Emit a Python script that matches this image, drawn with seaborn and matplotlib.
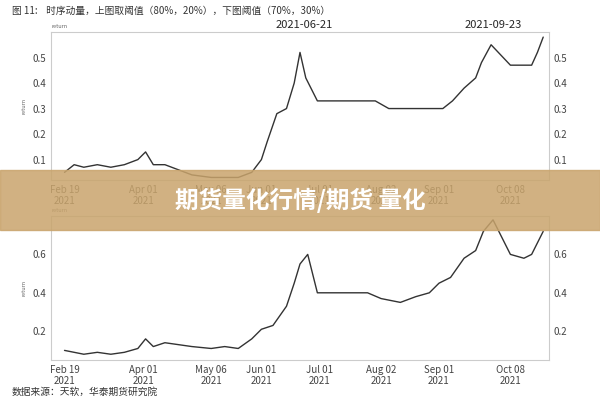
import matplotlib
matplotlib.use("Agg")
import matplotlib.pyplot as plt
import matplotlib.dates as mdates
import seaborn as sns
import pandas as pd

sns.set_style("white")
plt.rcParams['font.family'] = ['Noto Sans CJK SC', 'DejaVu Sans']

top_dates = ["2021-02-19","2021-02-24","2021-03-01","2021-03-08","2021-03-15","2021-03-22","2021-03-29","2021-04-02","2021-04-06","2021-04-12","2021-04-19","2021-04-26","2021-05-06","2021-05-13","2021-05-20","2021-05-27","2021-06-01","2021-06-04","2021-06-09","2021-06-14","2021-06-18","2021-06-21","2021-06-24","2021-06-30","2021-07-09","2021-07-20","2021-07-30","2021-08-06","2021-08-16","2021-08-27","2021-09-03","2021-09-08","2021-09-14","2021-09-20","2021-09-23","2021-09-28","2021-10-08","2021-10-15","2021-10-19","2021-10-22","2021-10-25"]
top_vals = [0.05,0.08,0.07,0.08,0.07,0.08,0.10,0.13,0.08,0.08,0.06,0.04,0.03,0.03,0.03,0.05,0.10,0.17,0.28,0.30,0.40,0.52,0.42,0.33,0.33,0.33,0.33,0.30,0.30,0.30,0.30,0.33,0.38,0.42,0.48,0.55,0.47,0.47,0.47,0.52,0.58]
bot_dates = ["2021-02-19","2021-02-24","2021-03-01","2021-03-08","2021-03-15","2021-03-22","2021-03-29","2021-04-02","2021-04-06","2021-04-12","2021-04-19","2021-04-26","2021-05-06","2021-05-13","2021-05-20","2021-05-27","2021-06-01","2021-06-07","2021-06-14","2021-06-18","2021-06-21","2021-06-25","2021-06-30","2021-07-06","2021-07-15","2021-07-26","2021-08-02","2021-08-12","2021-08-20","2021-08-27","2021-09-01","2021-09-07","2021-09-14","2021-09-20","2021-09-24","2021-09-29","2021-10-08","2021-10-15","2021-10-19","2021-10-25"]
bot_vals = [0.10,0.09,0.08,0.09,0.08,0.09,0.11,0.16,0.12,0.14,0.13,0.12,0.11,0.12,0.11,0.16,0.21,0.23,0.33,0.45,0.55,0.60,0.40,0.40,0.40,0.40,0.37,0.35,0.38,0.40,0.45,0.48,0.58,0.62,0.72,0.78,0.60,0.58,0.60,0.72]

fig = plt.figure(figsize=(6, 4), dpi=100)
fig.patch.set_facecolor("white")
fig.text(0.02, 0.985, "图 11:    时序动量，上图取阈值（80%，20%），下图阈值（70%，30%）", fontsize=7, va="top", color="#333")
fig.text(0.02, 0.012, "数据来源：天软，华泰期货研究院", fontsize=7, color="#333")

ticks = pd.to_datetime(["2021-02-19","2021-04-01","2021-05-06","2021-06-01","2021-07-01","2021-08-02","2021-09-01","2021-10-08"])
labels = ["Feb 19\n2021","Apr 01\n2021","May 06\n2021","Jun 01\n2021","Jul 01\n2021","Aug 02\n2021","Sep 01\n2021","Oct 08\n2021"]

def panel(rect, dates, vals, yt):
    ax = fig.add_axes(rect)
    df = pd.DataFrame({"d": pd.to_datetime(dates), "v": vals})
    sns.lineplot(data=df, x="d", y="v", ax=ax, color="#333", lw=1)
    ax.set_xlim(pd.Timestamp("2021-02-12"), pd.Timestamp("2021-10-28"))
    ax.set_xticks(ticks); ax.set_xticklabels(labels, fontsize=7, color="#444")
    ax.set_yticks(yt); ax.set_yticklabels([f"{t:g}" for t in yt], fontsize=7, color="#444")
    ax.tick_params(labelright=True, length=0)
    ax.set_xlabel(""); ax.set_ylabel("return", fontsize=4, color="#666")
    ax.text(0.0, 1.03, "return", transform=ax.transAxes, fontsize=4, color="#666")
    for s in ax.spines.values(): s.set_color("#ccc")
    return ax

a1 = panel([0.085, 0.55, 0.83, 0.37], top_dates, top_vals, [0.1,0.2,0.3,0.4,0.5])
a1.set_ylim(0.02, 0.6)
a1.text(0.45, 1.03, "2021-06-21", transform=a1.transAxes, fontsize=8)
a1.text(0.83, 1.03, "2021-09-23", transform=a1.transAxes, fontsize=8)
a2 = panel([0.085, 0.1, 0.83, 0.36], bot_dates, bot_vals, [0.2,0.4,0.6])
a2.set_ylim(0.05, 0.8)

fig.patches.append(plt.Rectangle((0, 0.425), 1, 0.15, transform=fig.transFigure, color="#c9a46c", alpha=0.85, zorder=5))
fig.text(0.5, 0.5, "期货量化行情/期货 量化", ha="center", va="center", fontsize=17, color="white", weight="bold", zorder=6)
fig.savefig("out.png", dpi=100)
